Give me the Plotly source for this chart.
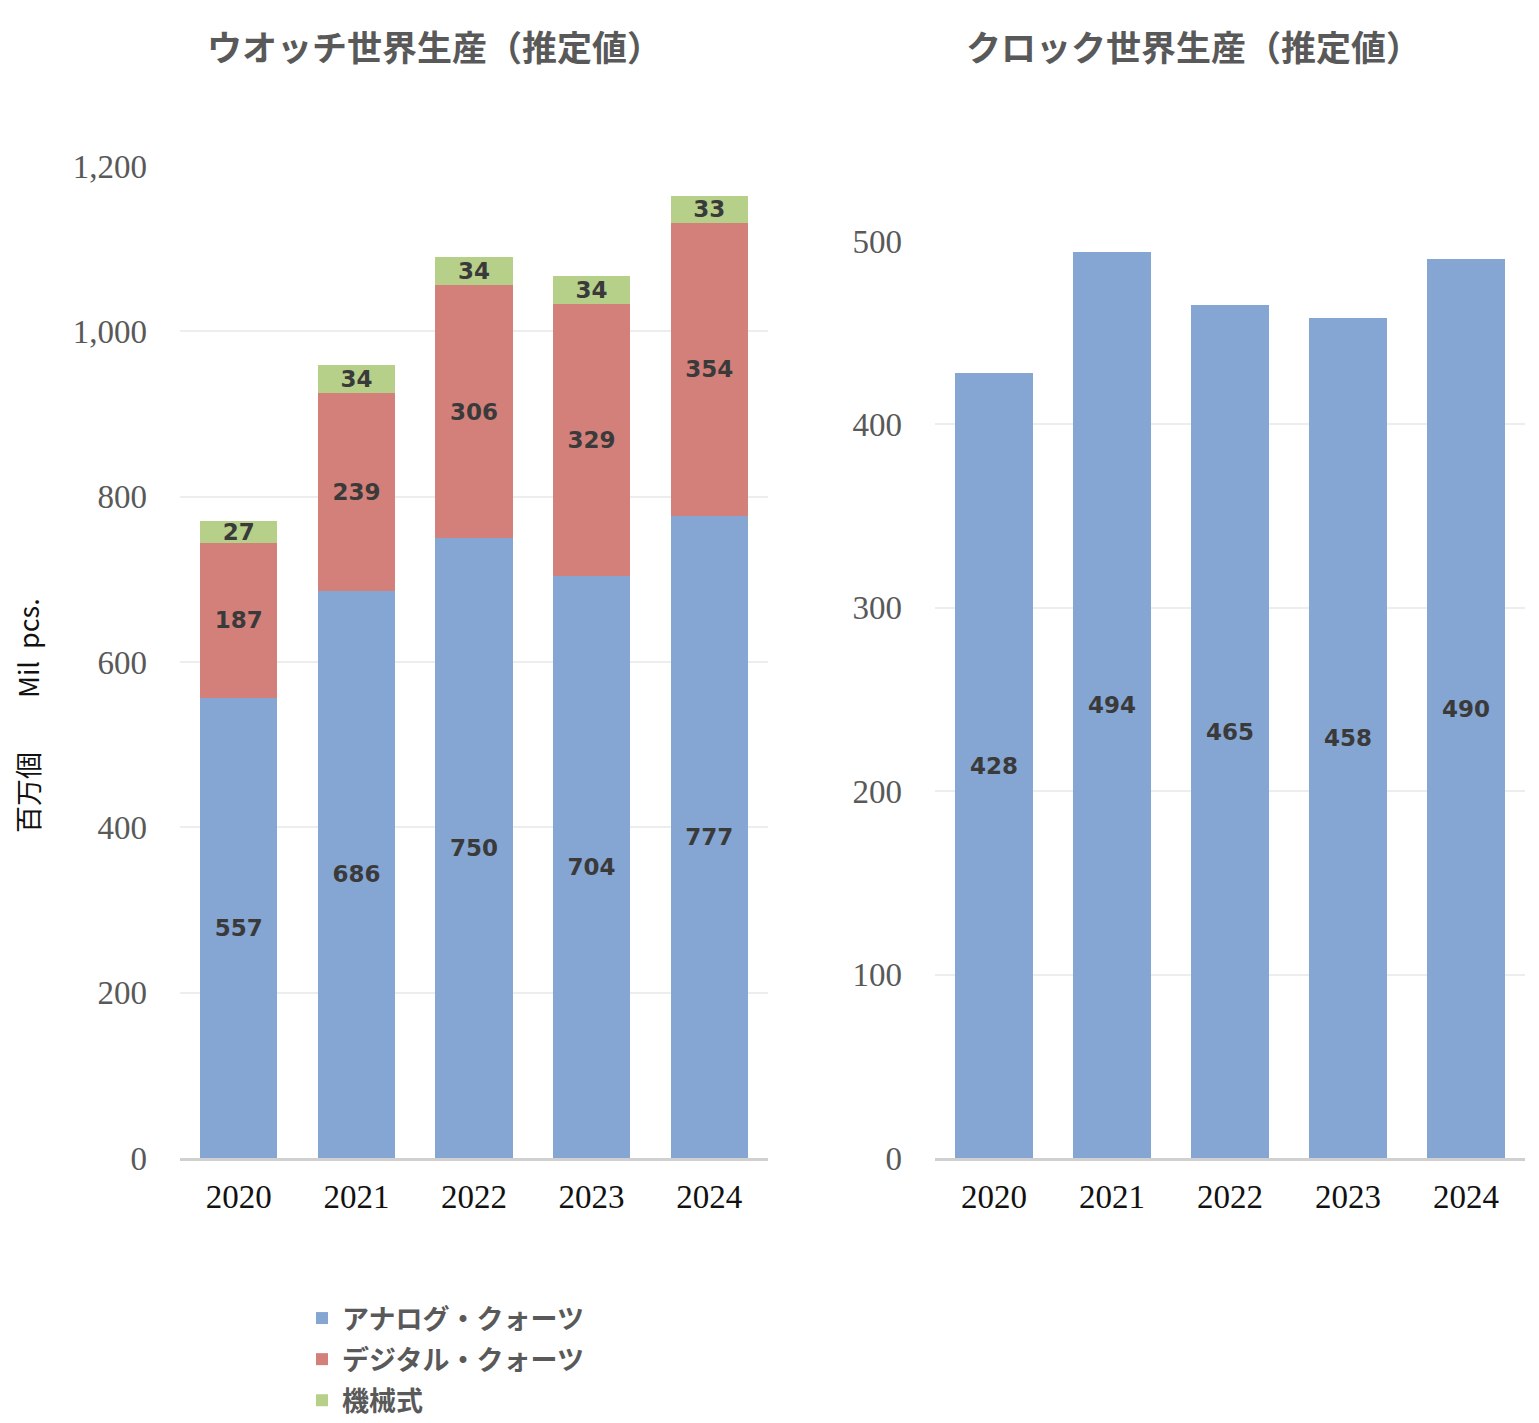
import plotly.graph_objects as go

# data (millions of pieces)
years = ["2020", "2021", "2022", "2023", "2024"]
watch_analog = [557, 686, 750, 704, 777]
watch_digital = [187, 239, 306, 329, 354]
watch_mech = [27, 34, 34, 34, 33]
clock_total = [428, 494, 465, 458, 490]

series_names = ["アナログ・クォーツ", "デジタル・クォーツ", "機械式"]
colors = ["#85A6D2", "#D3807B", "#B6D08A"]

W, H = 1539, 1423
OFF = 8
label_font = dict(family="DejaVu Sans", size=23, color="#3A3A3A")
tick_font = dict(family="Liberation Serif", size=33, color="#595959")
jp = "Noto Sans CJK JP"

fig = go.Figure()

for vals, name, col in zip([watch_analog, watch_digital, watch_mech], series_names, colors):
    fig.add_trace(go.Bar(
        x=years, y=vals, name=name, legendgroup=name, marker_color=col, marker_line_width=0,
        text=vals, texttemplate="<b>%{text}</b>", textposition="inside",
        insidetextanchor="middle", textangle=0, textfont=label_font,
        xaxis="x", yaxis="y",
    ))

fig.add_trace(go.Bar(
    x=years, y=clock_total, name="clock", marker_color=colors[0], marker_line_width=0,
    text=clock_total, texttemplate="<b>%{text}</b>", textposition="inside",
    insidetextanchor="middle", textangle=0, textfont=label_font,
    xaxis="x2", yaxis="y2", showlegend=False,
))

def px_x(p):
    return (p - OFF) / W

def px_y(p):
    return 1 - (p - OFF) / H

axis_common = dict(showline=True, linecolor="#D0D0D0", linewidth=3, ticks="",
                   tickfont=dict(family="Liberation Serif", size=33, color="#111111"),
                   ticklabelstandoff=7, fixedrange=True, automargin=False)
yaxis_common = dict(showgrid=True, gridcolor="#EDEDED", gridwidth=2, zeroline=False,
                    showline=False, ticks="", tickfont=tick_font, tickformat=",",
                    ticklabelstandoff=32, fixedrange=True, automargin=False)

fig.update_layout(
    width=W, height=H,
    margin=dict(l=0, r=0, t=0, b=0, autoexpand=False),
    paper_bgcolor="white", plot_bgcolor="white",
    barmode="stack", bargap=0.345,
    uniformtext=dict(minsize=23, mode="show"),
    xaxis=dict(domain=[px_x(180), px_x(768)], anchor="y", **axis_common),
    yaxis=dict(domain=[px_y(1158), px_y(166)], anchor="x", range=[0, 1200], dtick=200, **yaxis_common),
    xaxis2=dict(domain=[px_x(935), px_x(1525)], anchor="y2", **axis_common),
    yaxis2=dict(domain=[px_y(1158), px_y(241)], anchor="x2", range=[0, 500], dtick=100, **yaxis_common),
    legend=dict(x=px_x(302), y=px_y(1294), xanchor="left", yanchor="top",
                font=dict(family=jp, size=27, color="#595959", weight="bold"),
                traceorder="grouped", itemwidth=30, tracegroupgap=3, bgcolor="rgba(0,0,0,0)"),
    annotations=[
        dict(text="<b>ウオッチ世界生産（推定値）</b>", x=px_x(434), y=px_y(45), xref="paper", yref="paper",
             xanchor="center", yanchor="middle",
             showarrow=False, font=dict(family=jp, size=35, color="#595959")),
        dict(text="<b>クロック世界生産（推定値）</b>", x=px_x(1193), y=px_y(45), xref="paper", yref="paper",
             xanchor="center", yanchor="middle",
             showarrow=False, font=dict(family=jp, size=35, color="#595959")),
        dict(text="百万個　　Mil  pcs.", x=px_x(27), y=px_y(716), xref="paper", yref="paper",
             xanchor="center", yanchor="middle",
             showarrow=False, textangle=-90, font=dict(family=jp, size=27, color="#111111")),
    ],
)

fig.write_html("out.html")
